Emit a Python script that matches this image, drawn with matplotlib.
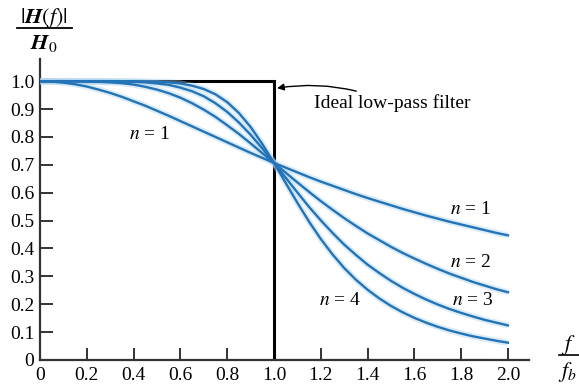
import numpy as np
import matplotlib.pyplot as plt

plt.rcParams['font.family'] = ['Liberation Serif', 'DejaVu Serif']
plt.rcParams['mathtext.fontset'] = 'stix'

# normalised frequency f/fb
f = [0.00, 0.05, 0.10, 0.15, 0.20, 0.25, 0.30, 0.35, 0.40, 0.45, 0.50,
     0.55, 0.60, 0.65, 0.70, 0.75, 0.80, 0.85, 0.90, 0.95, 1.00,
     1.05, 1.10, 1.15, 1.20, 1.25, 1.30, 1.35, 1.40, 1.45, 1.50,
     1.55, 1.60, 1.65, 1.70, 1.75, 1.80, 1.85, 1.90, 1.95, 2.00]

# |H(f)|/H0 for each filter order
n1 = [1.000, 0.999, 0.995, 0.989, 0.981, 0.970, 0.958, 0.944, 0.928, 0.912, 0.894,
      0.876, 0.857, 0.838, 0.819, 0.800, 0.781, 0.762, 0.743, 0.725, 0.707,
      0.690, 0.673, 0.656, 0.640, 0.625, 0.610, 0.595, 0.581, 0.568, 0.555,
      0.542, 0.530, 0.518, 0.507, 0.496, 0.486, 0.476, 0.466, 0.456, 0.447]
n2 = [1.000, 1.000, 1.000, 1.000, 0.999, 0.998, 0.996, 0.993, 0.988, 0.980, 0.970,
      0.957, 0.941, 0.921, 0.898, 0.872, 0.842, 0.811, 0.777, 0.742, 0.707,
      0.672, 0.637, 0.603, 0.570, 0.539, 0.509, 0.481, 0.454, 0.430, 0.406,
      0.384, 0.364, 0.345, 0.327, 0.310, 0.295, 0.280, 0.267, 0.254, 0.243]
n3 = [1.000, 1.000, 1.000, 1.000, 1.000, 1.000, 1.000, 0.999, 0.998, 0.996, 0.992,
      0.987, 0.977, 0.964, 0.946, 0.921, 0.890, 0.852, 0.808, 0.759, 0.707,
      0.654, 0.601, 0.549, 0.501, 0.456, 0.414, 0.377, 0.342, 0.312, 0.284,
      0.259, 0.237, 0.217, 0.199, 0.183, 0.169, 0.156, 0.144, 0.134, 0.124]
n4 = [1.000, 1.000, 1.000, 1.000, 1.000, 1.000, 1.000, 1.000, 1.000, 0.999, 0.998,
      0.996, 0.992, 0.984, 0.972, 0.953, 0.925, 0.886, 0.836, 0.775, 0.707,
      0.635, 0.564, 0.496, 0.434, 0.379, 0.330, 0.288, 0.252, 0.221, 0.194,
      0.171, 0.151, 0.134, 0.119, 0.106, 0.095, 0.085, 0.077, 0.069, 0.062]

# ideal low-pass filter
ideal_x = [0, 1.0, 1.0, 1.92]
ideal_y = [1.0, 1.0, 0, 0]

xticks = [0, 0.2, 0.4, 0.6, 0.8, 1.0, 1.2, 1.4, 1.6, 1.8, 2.0]
xlabels = ['0', '0.2', '0.4', '0.6', '0.8', '1.0', '1.2', '1.4', '1.6', '1.8', '2.0']
yticks = [0, 0.1, 0.2, 0.3, 0.4, 0.5, 0.6, 0.7, 0.8, 0.9, 1.0]
ylabels = ['0', '0.1', '0.2', '0.3', '0.4', '0.5', '0.6', '0.7', '0.8', '0.9', '1.0']

fig = plt.figure(figsize=(5.79, 3.91), dpi=100)
ax = fig.add_axes([0.0691, 0.0793, 0.8446, 0.770])

blue = '#2274b6'
ax.plot(ideal_x, ideal_y, color='black', lw=2.2, zorder=2, solid_joinstyle='miter')
for ys in [n1, n2, n3, n4]:
    ax.plot(f, ys, color='#a6cfee', lw=4.5, alpha=0.4, zorder=3, solid_capstyle='butt')
    ax.plot(f, ys, color=blue, lw=1.7, zorder=4)

ax.set_xlim(0, 2.09)
ax.set_ylim(0, 1.08)
ax.set_xticks(xticks)
ax.set_xticklabels(xlabels)
ax.set_yticks(yticks)
ax.set_yticklabels(ylabels)
ax.tick_params(direction='in', length=9, width=1.4, color='#333333',
               labelsize=14, pad=4)
ax.tick_params(axis='x', pad=5)
for s in ['top', 'right']:
    ax.spines[s].set_visible(False)
for s in ['left', 'bottom']:
    ax.spines[s].set_linewidth(1.6)
    ax.spines[s].set_color('#333333')

# curve labels
lab = dict(fontsize=14, ha='center', va='center')
ax.text(0.47, 0.81, r'$n$ = 1', **lab)
ax.text(1.84, 0.54, r'$n$ = 1', **lab)
ax.text(1.84, 0.35, r'$n$ = 2', **lab)
ax.text(1.85, 0.215, r'$n$ = 3', **lab)
ax.text(1.28, 0.215, r'$n$ = 4', **lab)

ax.annotate('Ideal low-pass filter', xy=(1.013, 0.975), xytext=(1.17, 0.92),
            fontsize=14, ha='left', va='center',
            arrowprops=dict(arrowstyle='-|>', color='black', lw=1.0,
                            connectionstyle='arc3,rad=0.15', shrinkA=2, shrinkB=0,
                            mutation_scale=10))

# y label as a fraction
fig.text(0.076, 0.953, r'$|\mathbfit{H}(f)|$', fontsize=16, ha='center', va='center')
fig.add_artist(plt.Line2D([0.029, 0.124], [0.928, 0.928], color='black', lw=1.3))
fig.text(0.076, 0.888, r'$\mathbfit{H}_0$', fontsize=16, ha='center', va='center')

# x label as a fraction
fig.text(0.982, 0.117, r'$f$', fontsize=16, ha='center', va='center')
fig.add_artist(plt.Line2D([0.966, 1.0], [0.092, 0.092], color='black', lw=1.2))
fig.text(0.980, 0.048, r'$f_b$', fontsize=16, ha='center', va='center')

fig.savefig('out.png', dpi=100)
